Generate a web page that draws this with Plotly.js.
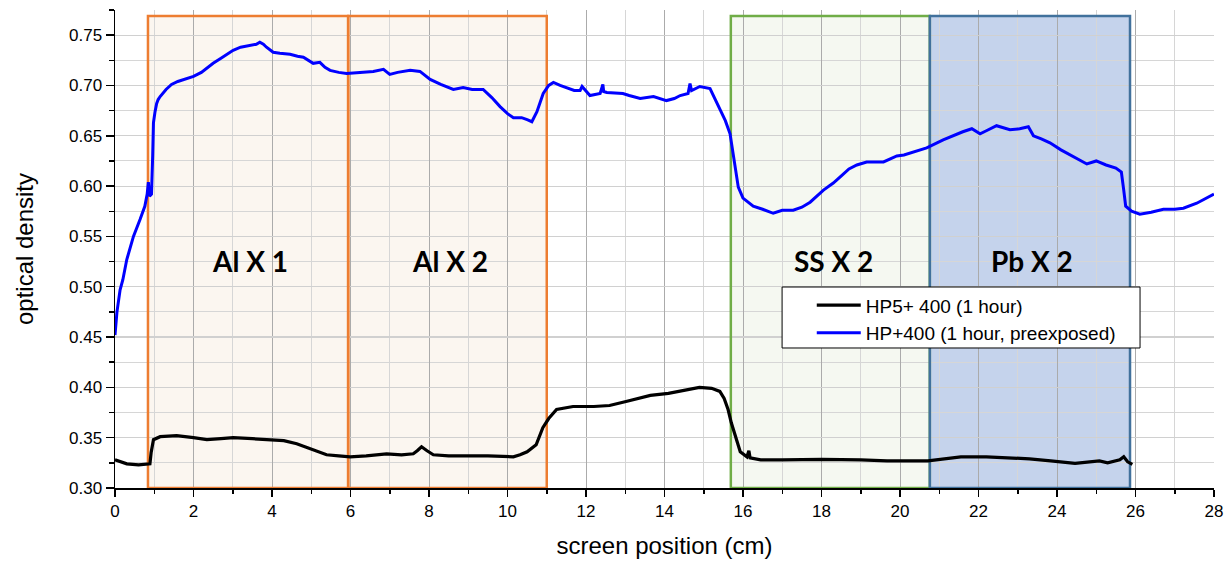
<!DOCTYPE html>
<html>
<head>
<meta charset="utf-8">
<script src="https://cdn.plot.ly/plotly-3.0.1.min.js"></script>
<style>html,body{margin:0;padding:0;background:#fff;}#chart{width:1232px;height:563px;}</style>
</head>
<body>
<div id="chart"></div>
<script>
// Series: HP5+ 400 (1 hour)
const blackX = [0,0.15,0.3,0.6,0.89,0.92,0.98,1.15,1.57,2.0,2.34,2.7,3.01,3.5,4.03,4.3,4.63,4.97,5.2,5.39,5.7,5.99,6.4,6.92,7.3,7.6,7.7,7.81,7.95,8.11,8.5,8.96,9.5,10.15,10.32,10.5,10.73,10.9,11.05,11.25,11.67,12.2,12.6,13.02,13.64,14.1,14.48,14.89,15.2,15.41,15.52,15.62,15.7,15.78,15.93,16.1,16.15,16.18,16.45,17.0,18.01,19.0,19.67,20.71,21.1,21.55,22.2,22.8,23.3,23.84,24.46,25.08,25.29,25.6,25.7,25.8,25.92];
const blackY = [0.328,0.326,0.324,0.323,0.324,0.335,0.348,0.351,0.352,0.350,0.348,0.349,0.350,0.349,0.348,0.347,0.344,0.339,0.335,0.333,0.332,0.331,0.332,0.334,0.333,0.334,0.337,0.341,0.337,0.333,0.332,0.332,0.332,0.331,0.333,0.336,0.343,0.360,0.369,0.378,0.381,0.381,0.382,0.386,0.392,0.394,0.397,0.400,0.399,0.396,0.389,0.378,0.365,0.354,0.336,0.331,0.337,0.330,0.328,0.328,0.3285,0.328,0.327,0.327,0.329,0.331,0.331,0.330,0.329,0.327,0.3245,0.327,0.325,0.328,0.331,0.326,0.3235];

// Series: HP+400 (1 hour, preexposed)
const blueX = [0,0.05,0.13,0.2,0.3,0.47,0.64,0.76,0.82,0.85,0.88,0.93,0.96,0.98,1.02,1.06,1.1,1.15,1.3,1.44,1.6,1.74,2.0,2.2,2.5,2.7,3.01,3.2,3.44,3.6,3.69,3.78,3.86,4.03,4.2,4.46,4.65,4.80,5.05,5.22,5.35,5.48,5.7,5.90,6.24,6.58,6.84,6.9,7.0,7.2,7.52,7.77,8.03,8.3,8.62,8.87,9.1,9.38,9.6,9.81,10.0,10.15,10.36,10.5,10.62,10.75,10.91,11.05,11.17,11.34,11.5,11.7,11.85,11.9,12.1,12.36,12.43,12.45,12.53,12.94,13.1,13.38,13.72,14.05,14.25,14.4,14.6,14.65,14.69,14.9,15.16,15.41,15.55,15.67,15.75,15.82,15.88,16.0,16.26,16.5,16.77,17.0,17.28,17.5,17.71,18.05,18.3,18.47,18.7,18.9,19.15,19.58,19.92,20.1,20.25,20.68,21.1,21.44,21.6,21.83,22.04,22.2,22.46,22.8,23.05,23.27,23.4,23.6,23.82,24.1,24.33,24.55,24.76,25.0,25.25,25.5,25.64,25.7,25.75,25.9,26.11,26.4,26.71,27.0,27.22,27.56,27.83,28.0];
const blueY = [0.452,0.475,0.497,0.507,0.527,0.55,0.567,0.58,0.592,0.604,0.59,0.592,0.63,0.663,0.674,0.682,0.686,0.689,0.696,0.701,0.704,0.706,0.709,0.713,0.722,0.727,0.735,0.738,0.740,0.741,0.743,0.741,0.738,0.733,0.732,0.731,0.729,0.728,0.722,0.723,0.718,0.715,0.713,0.712,0.713,0.714,0.716,0.714,0.711,0.713,0.715,0.714,0.706,0.701,0.696,0.698,0.696,0.696,0.688,0.679,0.672,0.668,0.668,0.666,0.664,0.674,0.692,0.700,0.703,0.700,0.698,0.695,0.695,0.699,0.690,0.692,0.701,0.694,0.693,0.692,0.690,0.687,0.689,0.685,0.687,0.690,0.692,0.702,0.695,0.699,0.697,0.677,0.665,0.652,0.632,0.615,0.599,0.588,0.580,0.577,0.573,0.576,0.576,0.579,0.584,0.596,0.603,0.609,0.617,0.621,0.624,0.624,0.630,0.631,0.633,0.638,0.646,0.652,0.654,0.657,0.652,0.655,0.660,0.656,0.657,0.659,0.650,0.647,0.643,0.636,0.631,0.627,0.622,0.625,0.621,0.618,0.614,0.596,0.580,0.575,0.572,0.574,0.577,0.577,0.578,0.583,0.589,0.592];

// Shielding regions (cm)
const regionLabels = ["Al X 1", "Al X 2", "SS X 2", "Pb X 2"];
const regionStart = [0.84, 5.94, 15.69, 20.76];
const regionEnd = [5.94, 11.0, 20.76, 25.86];
const regionLabelX = [3.44, 8.53, 18.3, 23.37];
const regionTop = 0.769;
const regionLabelY = 0.5255;

const seriesNames = ["HP5+ 400 (1 hour)", "HP+400 (1 hour, preexposed)"];

const regionFill = ["#FBF6F0", "#FBF6F0", "#F5F8F1", "#C5D3EC"];
const regionLine = ["#ED7D31", "#ED7D31", "#70AD47", "#41719C"];

const shapes = [];
for (let i = 0; i < regionStart.length; i++) {
  shapes.push({type:'rect', xref:'x', yref:'y', x0:regionStart[i], x1:regionEnd[i], y0:0.30, y1:regionTop,
    fillcolor:regionFill[i], line:{width:0}, layer:'below'});
}
for (let i = 0; i < regionStart.length; i++) {
  shapes.push({type:'rect', xref:'x', yref:'y', x0:regionStart[i], x1:regionEnd[i], y0:0.30, y1:regionTop,
    fillcolor:'rgba(0,0,0,0)', line:{width:2.5, color:regionLine[i]}, layer:'between'});
}
// legend frame (legend itself is drawn by Plotly inside it)
shapes.push({type:'rect', xref:'paper', yref:'paper', x0:0.607, x1:0.9327, y0:0.2929, y1:0.4205,
  fillcolor:'#ffffff', line:{width:1, color:'#000'}, layer:'above'});

const annotations = regionLabels.map((t, i) => ({
  x: regionLabelX[i], y: regionLabelY, xref:'x', yref:'y', text: t, showarrow:false,
  font:{family:'Lato, "Open Sans", sans-serif', size:28, color:'#000', weight:'bold'}
}));

const traces = [
  {x: blackX, y: blackY, name: seriesNames[0], type:'scatter', mode:'lines', line:{color:'#000000', width:3.2}},
  {x: blueX, y: blueY, name: seriesNames[1], type:'scatter', mode:'lines', line:{color:'#0000FF', width:3}}
];

const axisFont = {family:'"Liberation Sans", Arial, sans-serif', size:17, color:'#000'};

const layout = {
  width:1232, height:563,
  margin:{l:115, r:18, t:10, b:75},
  paper_bgcolor:'#fff', plot_bgcolor:'#fff',
  showlegend:true,
  legend:{x:0.634, y:0.422, xanchor:'left', yanchor:'top', bgcolor:'rgba(0,0,0,0)', borderwidth:0,
    font:{family:'"Liberation Sans", Arial, sans-serif', size:19, color:'#000'}, itemwidth:44, tracegroupgap:0},
  xaxis:{range:[0,28], dtick:2, tick0:0, showgrid:true, gridcolor:'#ABABAB', gridwidth:1,
    ticks:'outside', ticklen:7, tickwidth:1.5, tickcolor:'#000', showline:true, linecolor:'#000', linewidth:1.5,
    zeroline:false, tickfont:axisFont,
    minor:{dtick:1, showgrid:true, gridcolor:'#D6D6D6', gridwidth:1, ticks:'outside', ticklen:4, tickcolor:'#000', tickwidth:1.5},
    title:{text:'screen position (cm)', font:{family:'"Liberation Sans", Arial, sans-serif', size:24, color:'#000'}, standoff:17}},
  yaxis:{range:[0.30,0.775], dtick:0.05, tick0:0.30, tickformat:'.2f', showgrid:true, gridcolor:'#D0D0D0', gridwidth:1.2,
    ticks:'outside', ticklen:8, tickwidth:1.5, tickcolor:'#000', showline:true, linecolor:'#000', linewidth:1.5,
    zeroline:false, tickfont:axisFont,
    minor:{dtick:0.025, showgrid:true, gridcolor:'#D6D6D6', gridwidth:1, ticks:'outside', ticklen:5, tickcolor:'#000', tickwidth:1.5},
    title:{text:'optical density', font:{family:'"Liberation Sans", Arial, sans-serif', size:24, color:'#000'}, standoff:28}},
  shapes: shapes,
  annotations: annotations
};

Plotly.newPlot('chart', traces, layout, {displayModeBar:false, staticPlot:true});
</script>
</body>
</html>
